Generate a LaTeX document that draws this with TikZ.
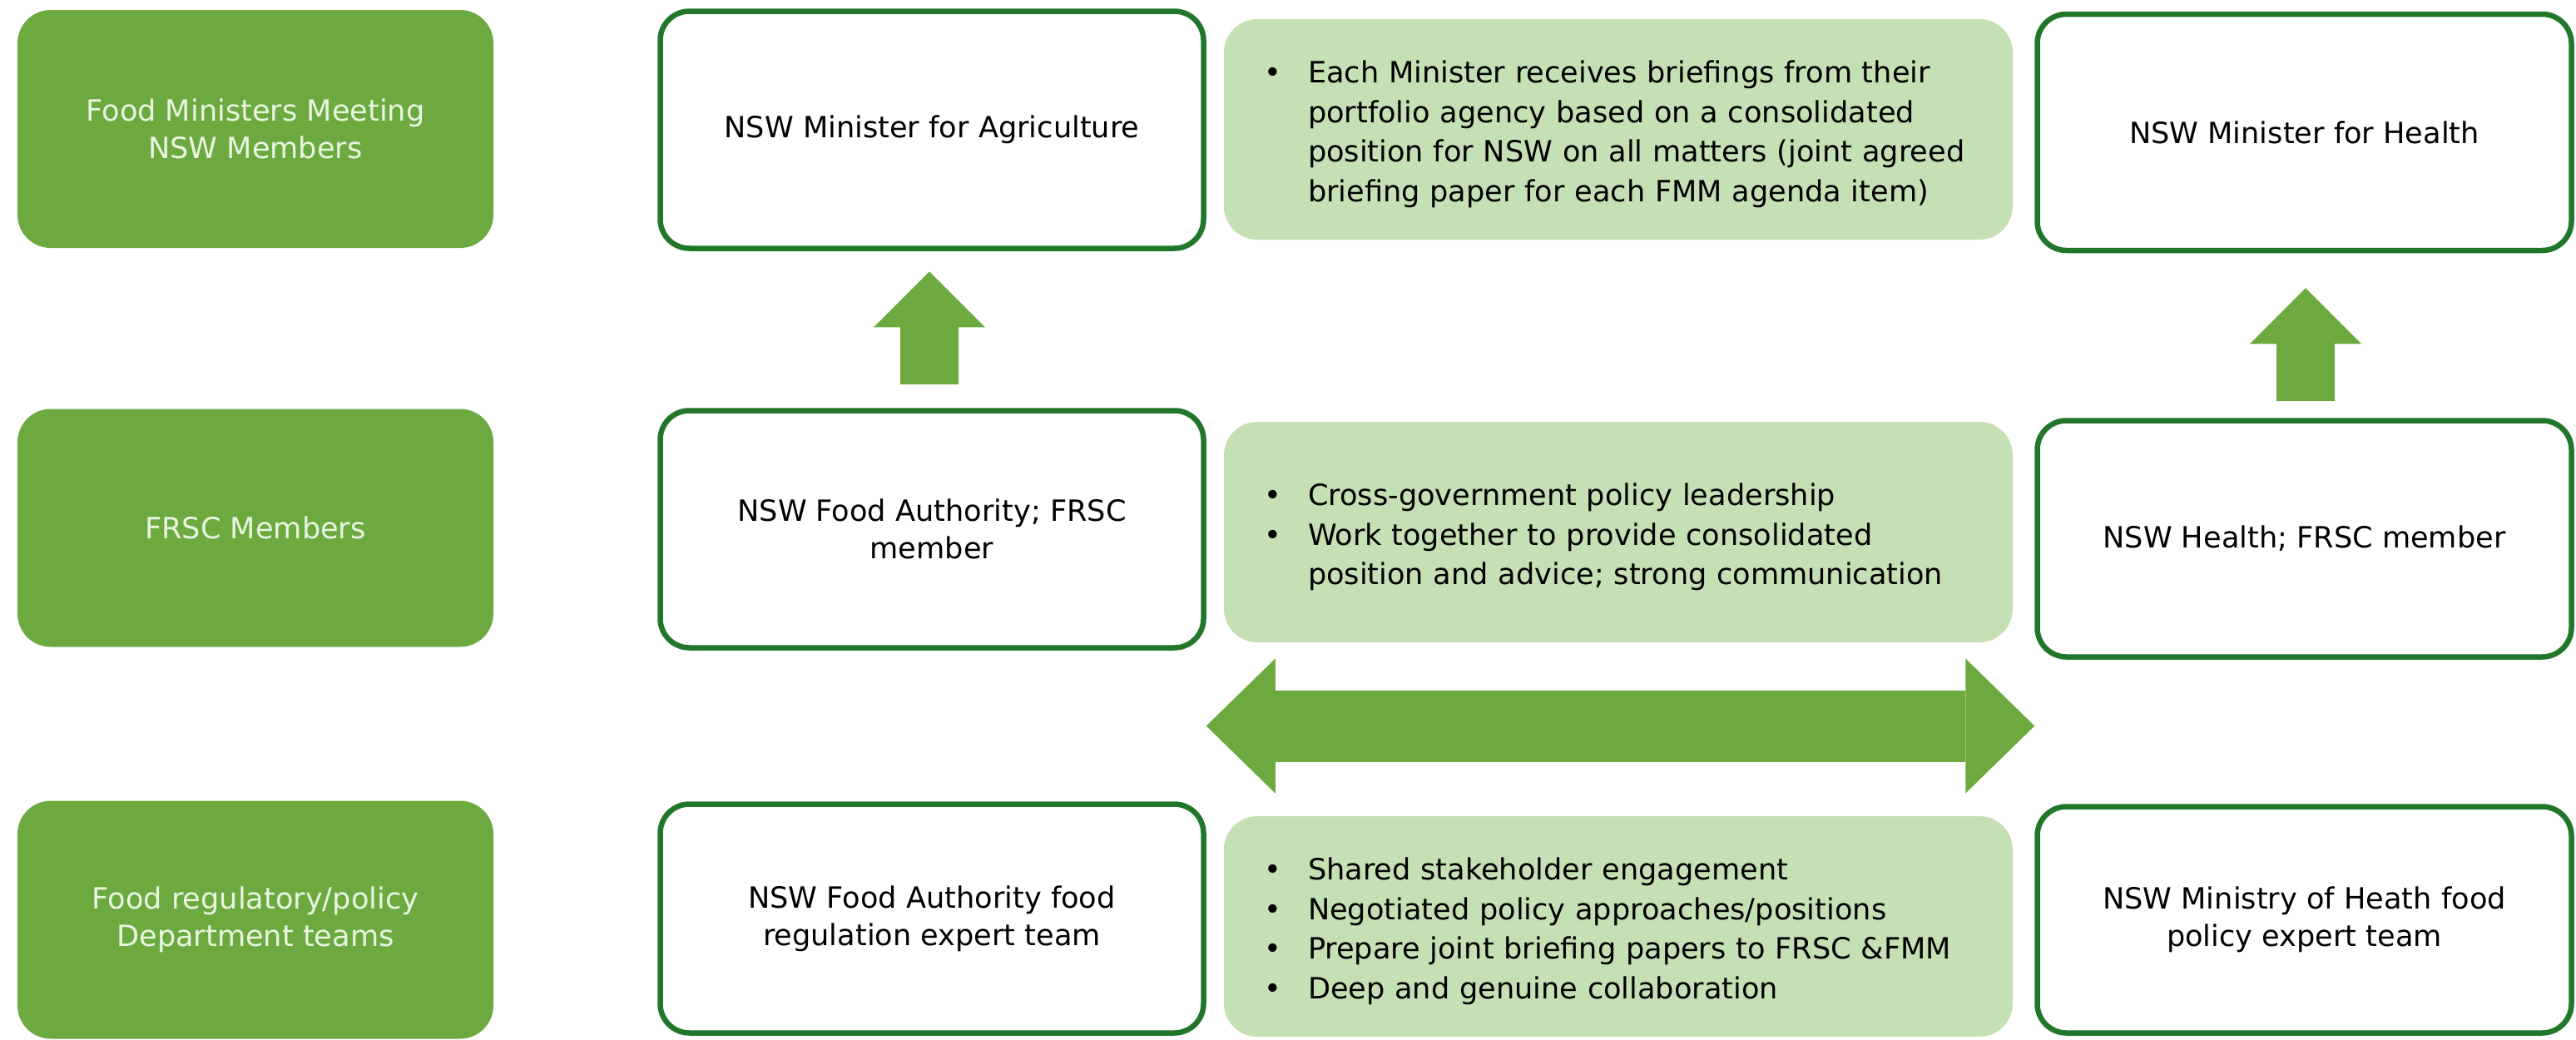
\documentclass[tikz,border=0pt]{standalone}
\usepackage{fontspec}
\setmainfont{DejaVu Sans}
\usepackage{tikz}
\usetikzlibrary{calc,positioning,arrows.meta}
\definecolor{levelgreen}{RGB}{108,170,64}
\definecolor{notegreen}{RGB}{197,224,180}
\definecolor{rimgreen}{RGB}{34,118,42}
\definecolor{palegreen}{RGB}{234,245,226}
\tikzstyle{level}     = [rectangle, rounded corners=0.4cm, minimum width=5.72cm, minimum height=2.86cm, inner sep=0pt, fill=levelgreen, text=palegreen, align=center, font=\fontsize{10}{12.8}\selectfont]
\tikzstyle{agency}    = [rectangle, rounded corners=0.35cm, inner sep=0pt, draw=rimgreen, line width=0.065cm, fill=white, align=center, font=\fontsize{10}{12.8}\selectfont]
\tikzstyle{note}      = [rectangle, rounded corners=0.4cm, minimum width=9.48cm, minimum height=2.65cm, text width=8.52cm, inner xsep=0.48cm, inner ysep=0pt, fill=notegreen, align=left, font=\fontsize{10}{13.5}\selectfont]
\tikzstyle{liftarrow} = [levelgreen, line width=0.7cm, -{Triangle[length=0.67cm, width=1.34cm, line width=0pt]}]
\tikzstyle{linkarrow} = [levelgreen, line width=0.86cm, {Triangle[length=0.83cm, width=1.62cm, line width=0pt]}-{Triangle[length=0.83cm, width=1.62cm, line width=0pt]}]
\newcommand{\bulletlist}[1]{\raisebox{-0.06cm}[\height][\depth]{\begin{tabular}{@{}p{0.53cm}@{}l@{}}#1\end{tabular}}}

\begin{document}
\begin{tikzpicture}
        \useasboundingbox (0,0) rectangle (30.96,-12.49);

        \node[level] (lvlfmm)  at (3.07,-1.55)   {Food Ministers Meeting\\NSW Members};
        \node[level] (lvlfrsc) at (3.07,-6.345)  {FRSC Members};
        \node[level] (lvlteam) at (3.07,-11.055) {Food regulatory/policy\\Department teams};

        \node[agency, minimum width=6.53cm, minimum height=2.85cm] (agri)  at (11.2,-1.56)  {NSW Minister for Agriculture};
        \node[agency, minimum width=6.53cm, minimum height=2.85cm] (fa)    at (11.2,-6.36)  {NSW Food Authority; FRSC\\member};
        \node[agency, minimum width=6.53cm, minimum height=2.75cm] (fteam) at (11.2,-11.04) {NSW Food Authority food\\regulation expert team};

        \node[note] (briefing) at (19.45,-1.555) {\bulletlist{\textbullet & Each Minister receives briefings from their\\
                & portfolio agency based on a consolidated\\
                & position for NSW on all matters (joint agreed\\
                & briefing paper for each FMM agenda item)}};
        \node[note] (leadership) at (19.45,-6.395) {\bulletlist{\textbullet & Cross-government policy leadership\\
                \textbullet & Work together to provide consolidated\\
                & position and advice; strong communication}};
        \node[note] (collab) at (19.45,-11.135) {\bulletlist{\textbullet & Shared stakeholder engagement\\
                \textbullet & Negotiated policy approaches/positions\\
                \textbullet & Prepare joint briefing papers to FRSC \&FMM\\
                \textbullet & Deep and genuine collaboration}};

        \node[agency, minimum width=6.42cm, minimum height=2.84cm] (health)  at (27.695,-1.59)   {NSW Minister for Health};
        \node[agency, minimum width=6.42cm, minimum height=2.84cm] (fhealth) at (27.695,-6.475)  {NSW Health; FRSC member};
        \node[agency, minimum width=6.42cm, minimum height=2.72cm] (mteam)   at (27.695,-11.055) {NSW Ministry of Heath food\\policy expert team};

        \coordinate (gap) at ($(fa.south)!0.5!(fteam.north)$);

        \draw[liftarrow] ($(fa.north)+(-0.03,0.285)$) -- ($(agri.south)+(-0.03,-0.245)$);
        \draw[liftarrow] ($(fhealth.north)+(0.015,0.205)$) -- ($(health.south)+(0.015,-0.42)$);
        \draw[linkarrow] (fa.east |- gap) -- (fhealth.west |- gap);
\end{tikzpicture}
\end{document}
